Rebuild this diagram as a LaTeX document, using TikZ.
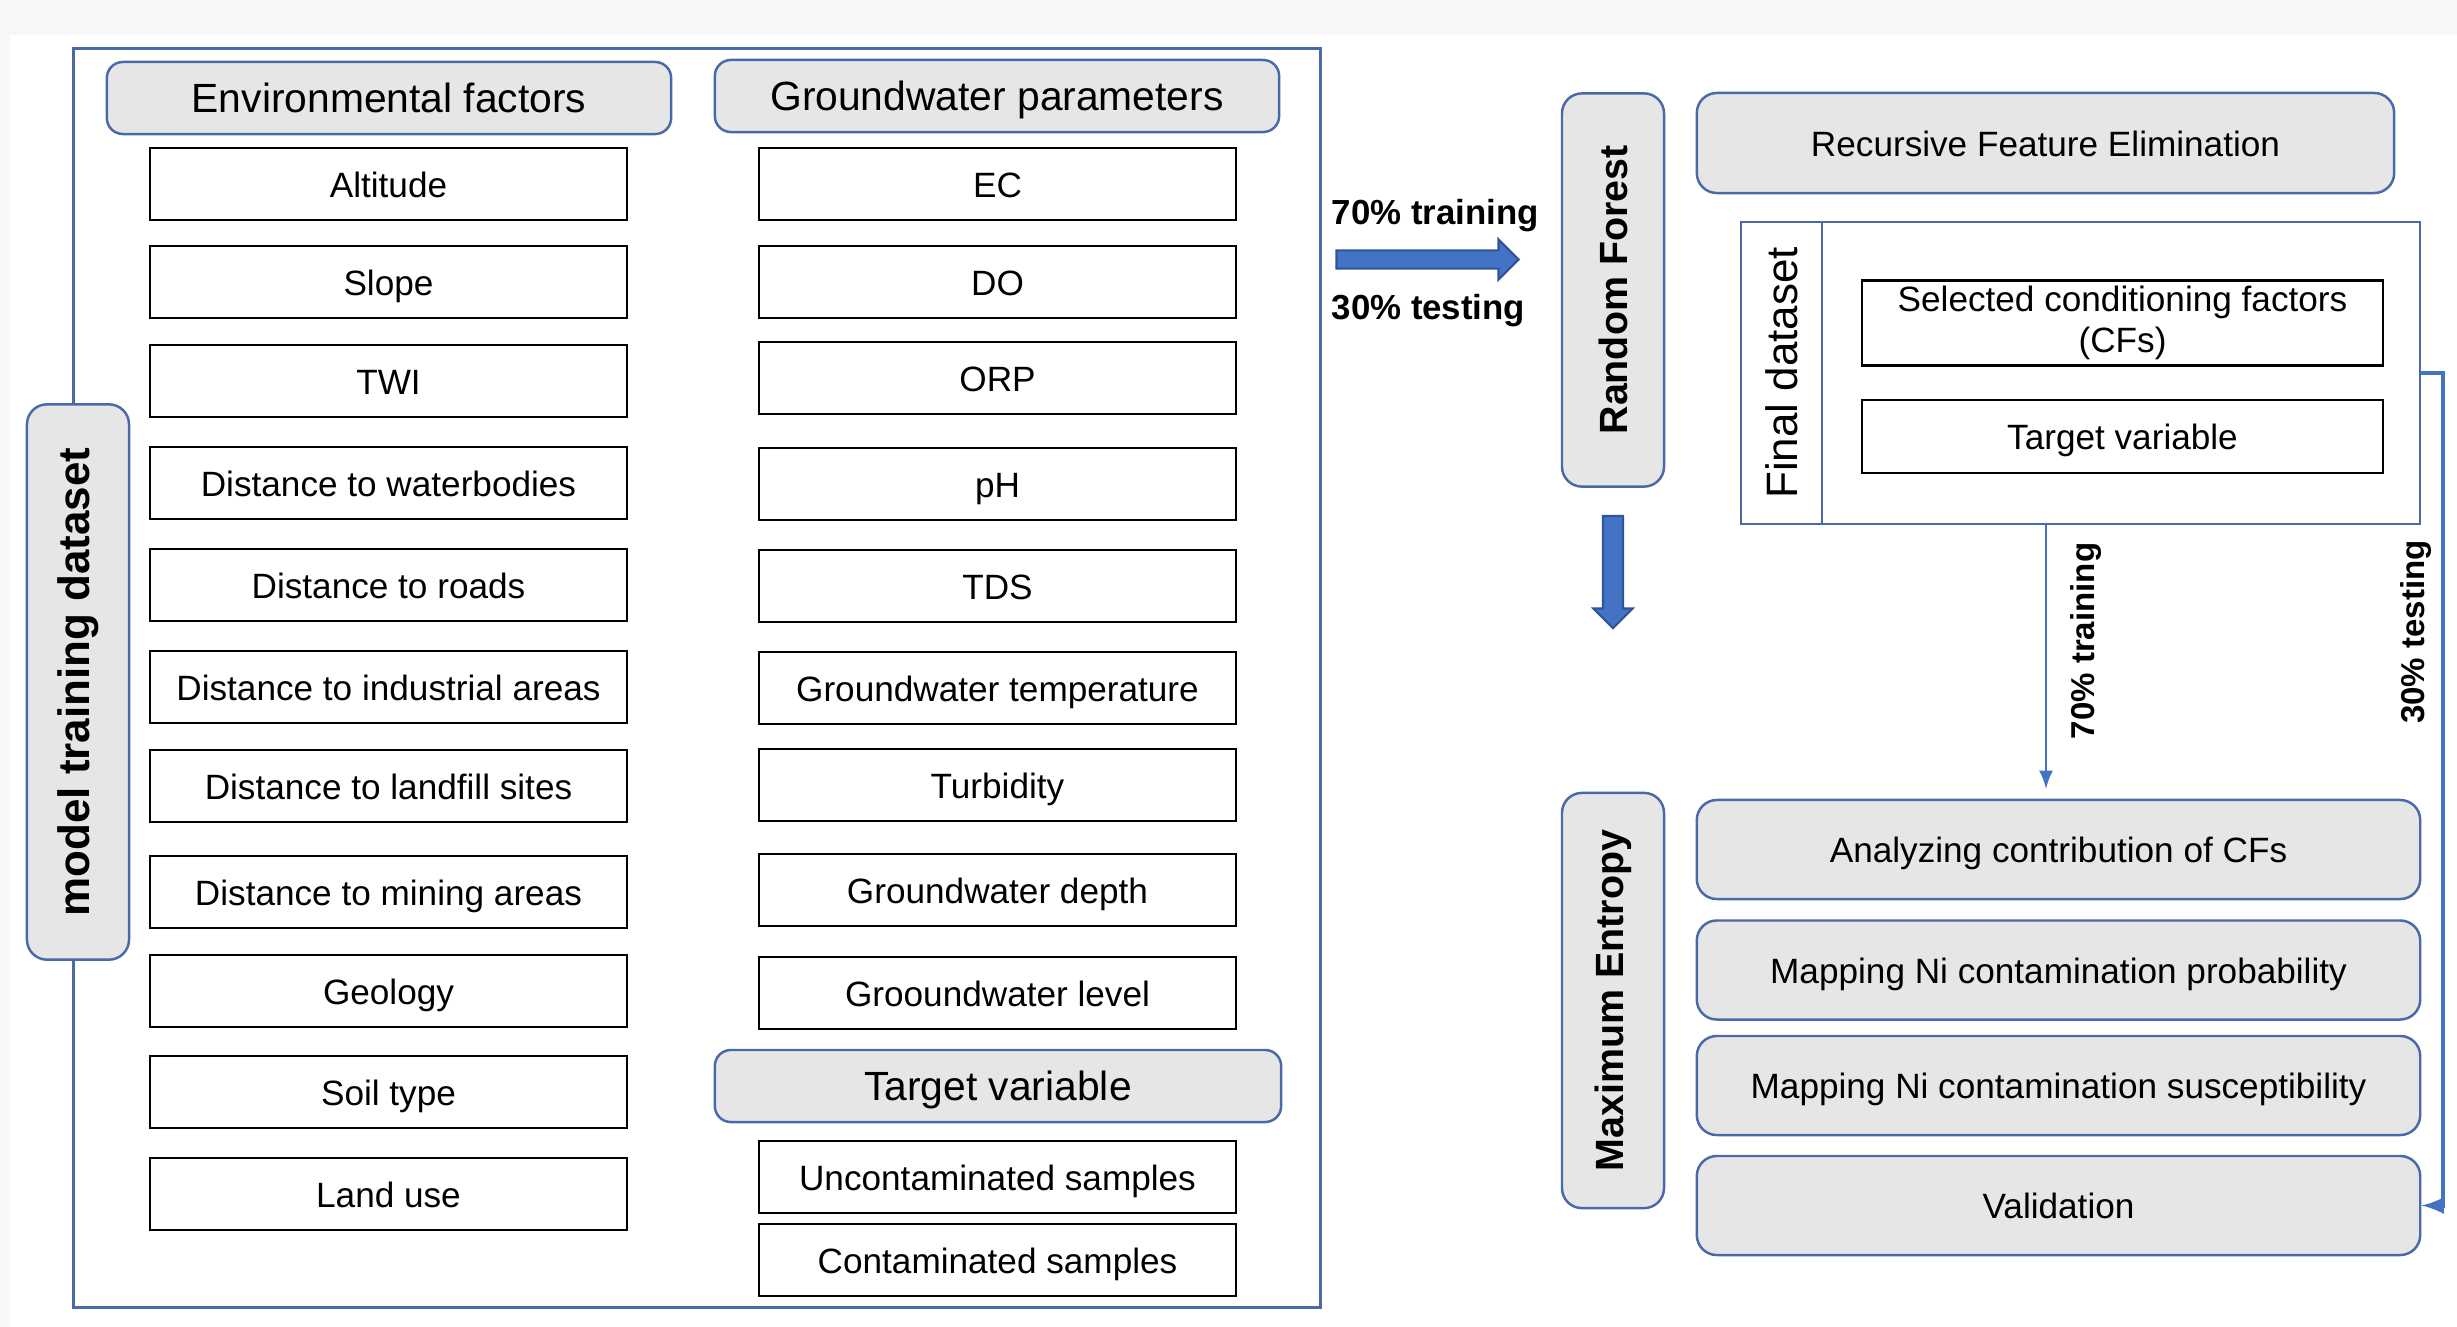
\documentclass[tikz,border=0pt]{standalone}
\usepackage{fontspec}
\setmainfont{Liberation Sans}
\usepackage{tikz}
\usetikzlibrary{shapes.arrows}
\usepackage{xcolor}
\definecolor{frameblue}{HTML}{4A69A8}
\definecolor{lineblue}{HTML}{4472C4}
\definecolor{arrowblue}{HTML}{4472C4}
\definecolor{arrowedge}{HTML}{2F5597}
\definecolor{boxgray}{HTML}{E6E6E6}
\tikzstyle{itembox} = [draw=black, line width=0.6pt, rectangle, minimum width=4.77cm, minimum height=0.72cm, inner sep=0pt, text height=0.75em, text depth=0pt, font=\fontsize{10}{12}\selectfont]
\tikzstyle{headbox} = [draw=frameblue, fill=boxgray, line width=0.7pt, rectangle, rounded corners=0.16cm, minimum width=5.64cm, minimum height=0.72cm, inner sep=0pt, text height=0.8em, text depth=0pt, font=\fontsize{11.6}{14}\selectfont]
\tikzstyle{stagebox} = [draw=frameblue, fill=boxgray, line width=0.7pt, rectangle, rounded corners=0.2cm, minimum height=0.99cm, inner sep=0pt, text height=0.75em, text depth=0pt, font=\fontsize{10}{12}\selectfont]
\tikzstyle{modelbox} = [draw=frameblue, fill=boxgray, line width=0.7pt, rectangle, rounded corners=0.2cm, rotate=90, minimum height=1.02cm, inner sep=0pt, font=\bfseries\fontsize{11.2}{13}\selectfont]
\tikzstyle{splitarrow} = [single arrow, draw=arrowedge, fill=arrowblue, line width=0.6pt, inner sep=0.08cm, single arrow head extend=0.11cm]
\tikzstyle{splitlabel} = [inner sep=0pt, font=\bfseries\fontsize{9.9}{12}\selectfont]
\tikzstyle{flowline} = [draw=lineblue, line width=0.8pt, -latex]

\begin{document}
\begin{tikzpicture}[x=0.01cm, y=-0.01cm]
\fill[gray!6] (0,0) rectangle (2457,1327);
\fill[white] (10,35) rectangle (2457,1327);
\useasboundingbox (0,0) rectangle (2457,1327);

\node[draw=frameblue, line width=0.7pt, minimum width=12.46cm, minimum height=12.58cm] (frame) at (697,678) {};
\node[modelbox, minimum width=5.55cm, font=\bfseries\fontsize{12.5}{14}\selectfont] (model) at (78,682) {model training dataset};

\node[headbox] (env) at (389,98) {Environmental factors};
\node[itembox] (alt) at (388.5,184) {Altitude};
\node[itembox] (slope) at (388.5,282) {Slope};
\node[itembox] (twi) at (388.5,381) {TWI};
\node[itembox] (water) at (388.5,483) {Distance to waterbodies};
\node[itembox] (roads) at (388.5,585) {Distance to roads};
\node[itembox] (indus) at (388.5,687) {Distance to industrial areas};
\node[itembox] (landfill) at (388.5,786) {Distance to landfill sites};
\node[itembox] (mining) at (388.5,892) {Distance to mining areas};
\node[itembox] (geology) at (388.5,991) {Geology};
\node[itembox] (soil) at (388.5,1092) {Soil type};
\node[itembox] (landuse) at (388.5,1194) {Land use};

\node[headbox] (gw) at (997,96) {Groundwater parameters};
\node[itembox] (ec) at (997.5,184) {EC};
\node[itembox] (do) at (997.5,282) {DO};
\node[itembox] (orp) at (997.5,378) {ORP};
\node[itembox] (ph) at (997.5,484) {pH};
\node[itembox] (tds) at (997.5,586) {TDS};
\node[itembox] (gwtemp) at (997.5,688) {Groundwater temperature};
\node[itembox] (turb) at (997.5,785) {Turbidity};
\node[itembox] (gwdepth) at (997.5,890) {Groundwater depth};
\node[itembox] (gwlevel) at (997.5,993) {Grooundwater level};
\node[headbox, minimum width=5.66cm] (tv) at (998,1086) {Target variable};
\node[itembox] (uncont) at (997.5,1177) {Uncontaminated samples};
\node[itembox] (cont) at (997.5,1260) {Contaminated samples};

\node[splitlabel, anchor=west] (trainsplit) at (1331,216) {70\% training};
\node[splitlabel, anchor=west] (testsplit) at (1331,311) {30\% testing};
\node[splitarrow, minimum height=1.82cm] (splitarr) at (1423,259.5) {};

\node[modelbox, minimum width=3.93cm] (rf) at (1613,290) {Random Forest};
\node[splitarrow, minimum height=1.12cm, inner sep=0.09cm, single arrow head extend=0.095cm, rotate=-90] (downarr) at (1613,567) {};
\node[modelbox, minimum width=4.15cm] (maxent) at (1613,1000.5) {Maximum Entropy};

\node[stagebox, minimum width=6.97cm, minimum height=1.0cm] (rfe) at (2045.5,143) {Recursive Feature Elimination};
\node[draw=frameblue, line width=0.6pt, minimum width=6.79cm, minimum height=3.02cm] (final) at (2080.5,373) {};
\node[draw=frameblue, line width=0.6pt, rotate=90, minimum width=3.02cm, minimum height=0.81cm, inner sep=0pt, font=\fontsize{12.5}{14}\selectfont] (finaltag) at (1781.5,373) {Final dataset};
\node[draw=black, line width=0.6pt, minimum width=5.21cm, minimum height=0.85cm, inner sep=0pt, align=center, font=\fontsize{10}{11.6}\selectfont] (selcf) at (2122.5,323) {Selected conditioning factors\\(CFs)};
\node[itembox, minimum width=5.21cm, minimum height=0.73cm] (target) at (2122.5,436.5) {Target variable};

\node[stagebox, minimum width=7.23cm] (analyze) at (2058.5,849.5) {Analyzing contribution of CFs};
\node[stagebox, minimum width=7.23cm] (prob) at (2058.5,970) {Mapping Ni contamination probability};
\node[stagebox, minimum width=7.23cm] (suscept) at (2058.5,1085.5) {Mapping Ni contamination susceptibility};
\node[stagebox, minimum width=7.23cm] (valid) at (2058.5,1205.5) {Validation};

\coordinate (trainx) at (2046,0);
\draw[flowline, shorten >=2.8pt] (final.south -| trainx) -- (analyze.north -| trainx);
\node[splitlabel, rotate=90, font=\bfseries\fontsize{9.4}{12}\selectfont] (trainlab) at (2086,641) {70\% training};
\draw[flowline, line width=1.2pt] (final.east) -- ++(22,0) |- (valid.east);
\node[splitlabel, rotate=90, font=\bfseries\fontsize{9.4}{12}\selectfont] (testlab) at (2416,632) {30\% testing};
\end{tikzpicture}
\end{document}
